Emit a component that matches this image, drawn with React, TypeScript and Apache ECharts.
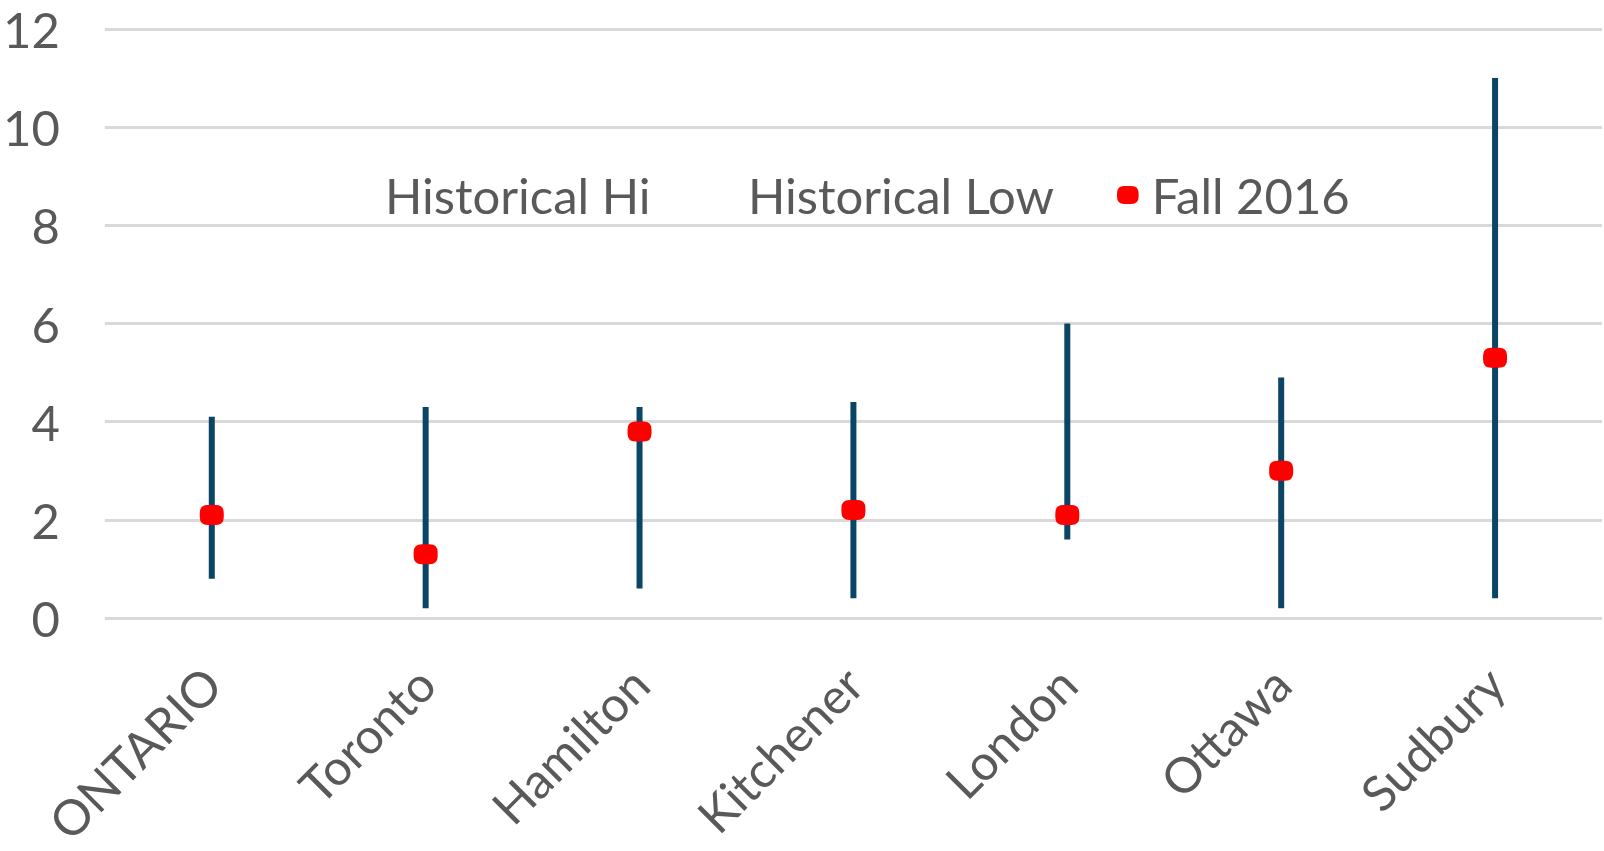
import React, { useEffect, useRef } from "react";
import * as echarts from "echarts";

const categories = ["ONTARIO", "Toronto", "Hamilton", "Kitchener", "London", "Ottawa", "Sudbury"];
const historicalHi = [4.1, 4.3, 4.3, 4.4, 6.0, 4.9, 11.0];
const historicalLow = [0.8, 0.2, 0.6, 0.4, 1.6, 0.2, 0.4];
const fall2016 = [2.1, 1.3, 3.8, 2.2, 2.1, 3.0, 5.3];
const yTicks = [0, 2, 4, 6, 8, 10, 12];

const FONT = "Lato";
const TEXT = "#595959";
const MARKER = "path://M8,0 L16,0 Q24,0 24,8 L24,12 Q24,20 16,20 L8,20 Q0,20 0,12 L0,8 Q0,0 8,0 Z";

export default function App() {
  const ref = useRef<HTMLDivElement>(null);
  useEffect(() => {
    if (!ref.current) return;
    const chart = echarts.init(ref.current, undefined, { renderer: "svg" });
    const rangeData = categories.map((_, i) => [i, historicalLow[i], historicalHi[i]]);
    const legendText = { color: TEXT, fontFamily: FONT, fontSize: 49, lineHeight: 52, padding: [0, 0, 0, 7] };
    const legendCommon = { top: 164, itemWidth: 24, itemHeight: 18, textStyle: legendText, selectedMode: false };
    chart.setOption({
      animation: false,
      backgroundColor: "#ffffff",
      grid: { left: 98, right: 2, top: 29, bottom: 233, containLabel: false },
      legend: [
        { ...legendCommon, data: ["Historical Hi"], left: 344 },
        { ...legendCommon, data: ["Historical Low"], left: 707 },
        { ...legendCommon, data: [{ name: "Fall 2016", icon: MARKER }], left: 1112 },
      ],
      xAxis: {
        type: "category",
        data: categories,
        axisLine: { show: false },
        axisTick: { show: false },
        axisLabel: { rotate: 45, margin: 57, color: TEXT, fontFamily: FONT, fontSize: 49, interval: 0 },
        splitLine: { show: false },
      },
      yAxis: {
        type: "value",
        min: yTicks[0],
        max: yTicks[yTicks.length - 1],
        interval: 2,
        axisLine: { show: false },
        axisTick: { show: false },
        axisLabel: { margin: 45, color: TEXT, fontFamily: FONT, fontSize: 49 },
        splitLine: { lineStyle: { color: "#D9D9D9", width: 3 } },
      },
      series: [
        {
          name: "Historical Hi",
          type: "line",
          data: historicalHi,
          symbol: "none",
          color: "rgba(0,0,0,0)",
          lineStyle: { width: 0, color: "rgba(0,0,0,0)" },
          itemStyle: { color: "rgba(0,0,0,0)" },
          silent: true,
        },
        {
          name: "Historical Low",
          type: "line",
          data: historicalLow,
          symbol: "none",
          color: "rgba(0,0,0,0)",
          lineStyle: { width: 0, color: "rgba(0,0,0,0)" },
          itemStyle: { color: "rgba(0,0,0,0)" },
          silent: true,
        },
        {
          name: "range",
          type: "custom",
          data: rangeData,
          encode: { x: 0, y: [1, 2] },
          renderItem: (params: any, api: any) => {
            const lo = api.coord([api.value(0), api.value(1)]);
            const hi = api.coord([api.value(0), api.value(2)]);
            return {
              type: "line",
              shape: { x1: lo[0], y1: lo[1], x2: hi[0], y2: hi[1] },
              style: { stroke: "#0B4566", lineWidth: 6 },
            };
          },
          z: 3,
        },
        {
          name: "Fall 2016",
          type: "scatter",
          data: fall2016,
          symbol: MARKER,
          symbolSize: [24, 20],
          itemStyle: { color: "#FF0000", opacity: 1 },
          z: 5,
        },
      ],
    });
    return () => chart.dispose();
  }, []);
  return <div ref={ref} style={{ position: "fixed", left: 0, top: 0, width: 1604, height: 851 }} />;
}
